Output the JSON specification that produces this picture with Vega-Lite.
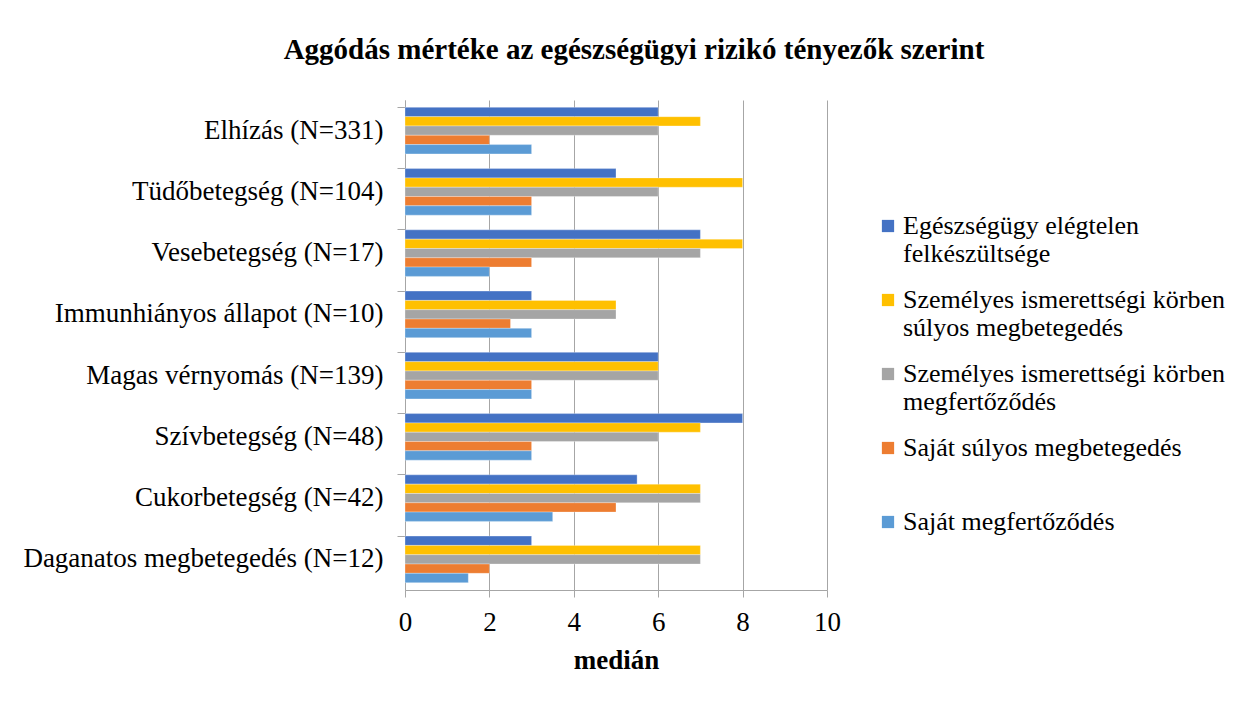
{
  "$schema": "https://vega.github.io/schema/vega-lite/v6.json",
  "autosize": {"type": "none"},
  "width": 422,
  "height": 490,
  "padding": {"left": 405, "top": 100, "right": 420, "bottom": 112},
  "background": "white",
  "title": {
    "text": "Aggódás mértéke az egészségügyi rizikó  tényezők szerint",
    "font": "Liberation Serif",
    "fontSize": 29,
    "fontWeight": "bold",
    "color": "black",
    "anchor": "middle",
    "dx": 18,
    "offset": 35
  },
  "data": {
    "values": [
      {"cat": "Elhízás (N=331)", "ser": "Egészségügy elégtelen felkészültsége", "v": 6},
      {"cat": "Elhízás (N=331)", "ser": "Személyes ismerettségi körben súlyos megbetegedés", "v": 7},
      {"cat": "Elhízás (N=331)", "ser": "Személyes ismerettségi körben megfertőződés", "v": 6},
      {"cat": "Elhízás (N=331)", "ser": "Saját súlyos megbetegedés", "v": 2},
      {"cat": "Elhízás (N=331)", "ser": "Saját megfertőződés", "v": 3},
      {"cat": "Tüdőbetegség (N=104)", "ser": "Egészségügy elégtelen felkészültsége", "v": 5},
      {"cat": "Tüdőbetegség (N=104)", "ser": "Személyes ismerettségi körben súlyos megbetegedés", "v": 8},
      {"cat": "Tüdőbetegség (N=104)", "ser": "Személyes ismerettségi körben megfertőződés", "v": 6},
      {"cat": "Tüdőbetegség (N=104)", "ser": "Saját súlyos megbetegedés", "v": 3},
      {"cat": "Tüdőbetegség (N=104)", "ser": "Saját megfertőződés", "v": 3},
      {"cat": "Vesebetegség (N=17)", "ser": "Egészségügy elégtelen felkészültsége", "v": 7},
      {"cat": "Vesebetegség (N=17)", "ser": "Személyes ismerettségi körben súlyos megbetegedés", "v": 8},
      {"cat": "Vesebetegség (N=17)", "ser": "Személyes ismerettségi körben megfertőződés", "v": 7},
      {"cat": "Vesebetegség (N=17)", "ser": "Saját súlyos megbetegedés", "v": 3},
      {"cat": "Vesebetegség (N=17)", "ser": "Saját megfertőződés", "v": 2},
      {"cat": "Immunhiányos állapot (N=10)", "ser": "Egészségügy elégtelen felkészültsége", "v": 3},
      {"cat": "Immunhiányos állapot (N=10)", "ser": "Személyes ismerettségi körben súlyos megbetegedés", "v": 5},
      {"cat": "Immunhiányos állapot (N=10)", "ser": "Személyes ismerettségi körben megfertőződés", "v": 5},
      {"cat": "Immunhiányos állapot (N=10)", "ser": "Saját súlyos megbetegedés", "v": 2.5},
      {"cat": "Immunhiányos állapot (N=10)", "ser": "Saját megfertőződés", "v": 3},
      {"cat": "Magas vérnyomás (N=139)", "ser": "Egészségügy elégtelen felkészültsége", "v": 6},
      {"cat": "Magas vérnyomás (N=139)", "ser": "Személyes ismerettségi körben súlyos megbetegedés", "v": 6},
      {"cat": "Magas vérnyomás (N=139)", "ser": "Személyes ismerettségi körben megfertőződés", "v": 6},
      {"cat": "Magas vérnyomás (N=139)", "ser": "Saját súlyos megbetegedés", "v": 3},
      {"cat": "Magas vérnyomás (N=139)", "ser": "Saját megfertőződés", "v": 3},
      {"cat": "Szívbetegség (N=48)", "ser": "Egészségügy elégtelen felkészültsége", "v": 8},
      {"cat": "Szívbetegség (N=48)", "ser": "Személyes ismerettségi körben súlyos megbetegedés", "v": 7},
      {"cat": "Szívbetegség (N=48)", "ser": "Személyes ismerettségi körben megfertőződés", "v": 6},
      {"cat": "Szívbetegség (N=48)", "ser": "Saját súlyos megbetegedés", "v": 3},
      {"cat": "Szívbetegség (N=48)", "ser": "Saját megfertőződés", "v": 3},
      {"cat": "Cukorbetegség (N=42)", "ser": "Egészségügy elégtelen felkészültsége", "v": 5.5},
      {"cat": "Cukorbetegség (N=42)", "ser": "Személyes ismerettségi körben súlyos megbetegedés", "v": 7},
      {"cat": "Cukorbetegség (N=42)", "ser": "Személyes ismerettségi körben megfertőződés", "v": 7},
      {"cat": "Cukorbetegség (N=42)", "ser": "Saját súlyos megbetegedés", "v": 5},
      {"cat": "Cukorbetegség (N=42)", "ser": "Saját megfertőződés", "v": 3.5},
      {"cat": "Daganatos megbetegedés (N=12)", "ser": "Egészségügy elégtelen felkészültsége", "v": 3},
      {"cat": "Daganatos megbetegedés (N=12)", "ser": "Személyes ismerettségi körben súlyos megbetegedés", "v": 7},
      {"cat": "Daganatos megbetegedés (N=12)", "ser": "Személyes ismerettségi körben megfertőződés", "v": 7},
      {"cat": "Daganatos megbetegedés (N=12)", "ser": "Saját súlyos megbetegedés", "v": 2},
      {"cat": "Daganatos megbetegedés (N=12)", "ser": "Saját megfertőződés", "v": 1.5}
    ]
  },
  "mark": {"type": "bar", "stroke": "white", "strokeWidth": 0.5, "strokeOpacity": 0.6},
  "encoding": {
    "y": {
      "field": "cat",
      "type": "nominal",
      "sort": null,
      "title": null,
      "scale": {"paddingInner": 0.24, "paddingOuter": 0.12},
      "axis": {
        "bandPosition": 0,
        "labelFont": "Liberation Serif",
        "labelFontSize": 27,
        "labelColor": "black",
        "labelPadding": 14,
        "labelBound": false,
        "labelLimit": 420,
        "domainColor": "#a6a6a6",
        "tickColor": "#a6a6a6",
        "tickSize": 8,
        "grid": false
      }
    },
    "yOffset": {
      "field": "ser",
      "type": "nominal",
      "sort": [
        "Egészségügy elégtelen felkészültsége",
        "Személyes ismerettségi körben súlyos megbetegedés",
        "Személyes ismerettségi körben megfertőződés",
        "Saját súlyos megbetegedés",
        "Saját megfertőződés"
      ],
      "scale": {"paddingInner": 0, "paddingOuter": 0}
    },
    "x": {
      "field": "v",
      "type": "quantitative",
      "title": "medián",
      "scale": {"domain": [0, 10], "nice": false},
      "axis": {
        "values": [0, 2, 4, 6, 8, 10],
        "labelFont": "Liberation Serif",
        "labelFontSize": 27,
        "labelColor": "black",
        "labelPadding": 12,
        "labelFlush": false,
        "titleFont": "Liberation Serif",
        "titleFontSize": 27,
        "titleFontWeight": "bold",
        "titleColor": "black",
        "titlePadding": 12,
        "grid": true,
        "gridColor": "#a6a6a6",
        "gridWidth": 1,
        "domainColor": "#a6a6a6",
        "tickColor": "#a6a6a6",
        "tickSize": 7
      }
    },
    "color": {
      "field": "ser",
      "type": "nominal",
      "scale": {
        "domain": [
          "Egészségügy elégtelen felkészültsége",
          "Személyes ismerettségi körben súlyos megbetegedés",
          "Személyes ismerettségi körben megfertőződés",
          "Saját súlyos megbetegedés",
          "Saját megfertőződés"
        ],
        "range": ["#4472C4", "#FFC000", "#A5A5A5", "#ED7D31", "#5B9BD5"]
      },
      "legend": {
        "title": null,
        "orient": "none",
        "legendX": 470,
        "legendY": 113,
        "padding": 0,
        "symbolType": "square",
        "symbolSize": 150,
        "symbolStrokeWidth": 0,
        "labelFont": "Liberation Serif",
        "labelFontSize": 26,
        "labelColor": "black",
        "labelBaseline": "middle",
        "labelLineHeight": 30,
        "labelLimit": 420,
        "labelOffset": 2,
        "rowPadding": 20,
        "labelExpr": "datum.label == 'Egészségügy elégtelen felkészültsége' ? ['Egészségügy  elégtelen', 'felkészültsége'] : datum.label == 'Személyes ismerettségi körben súlyos megbetegedés' ? ['Személyes ismerettségi körben', 'súlyos megbetegedés'] : datum.label == 'Személyes ismerettségi körben megfertőződés' ? ['Személyes ismerettségi körben', 'megfertőződés'] : [datum.label, ' ']"
      }
    }
  },
  "config": {
    "view": {"stroke": null}
  }
}
